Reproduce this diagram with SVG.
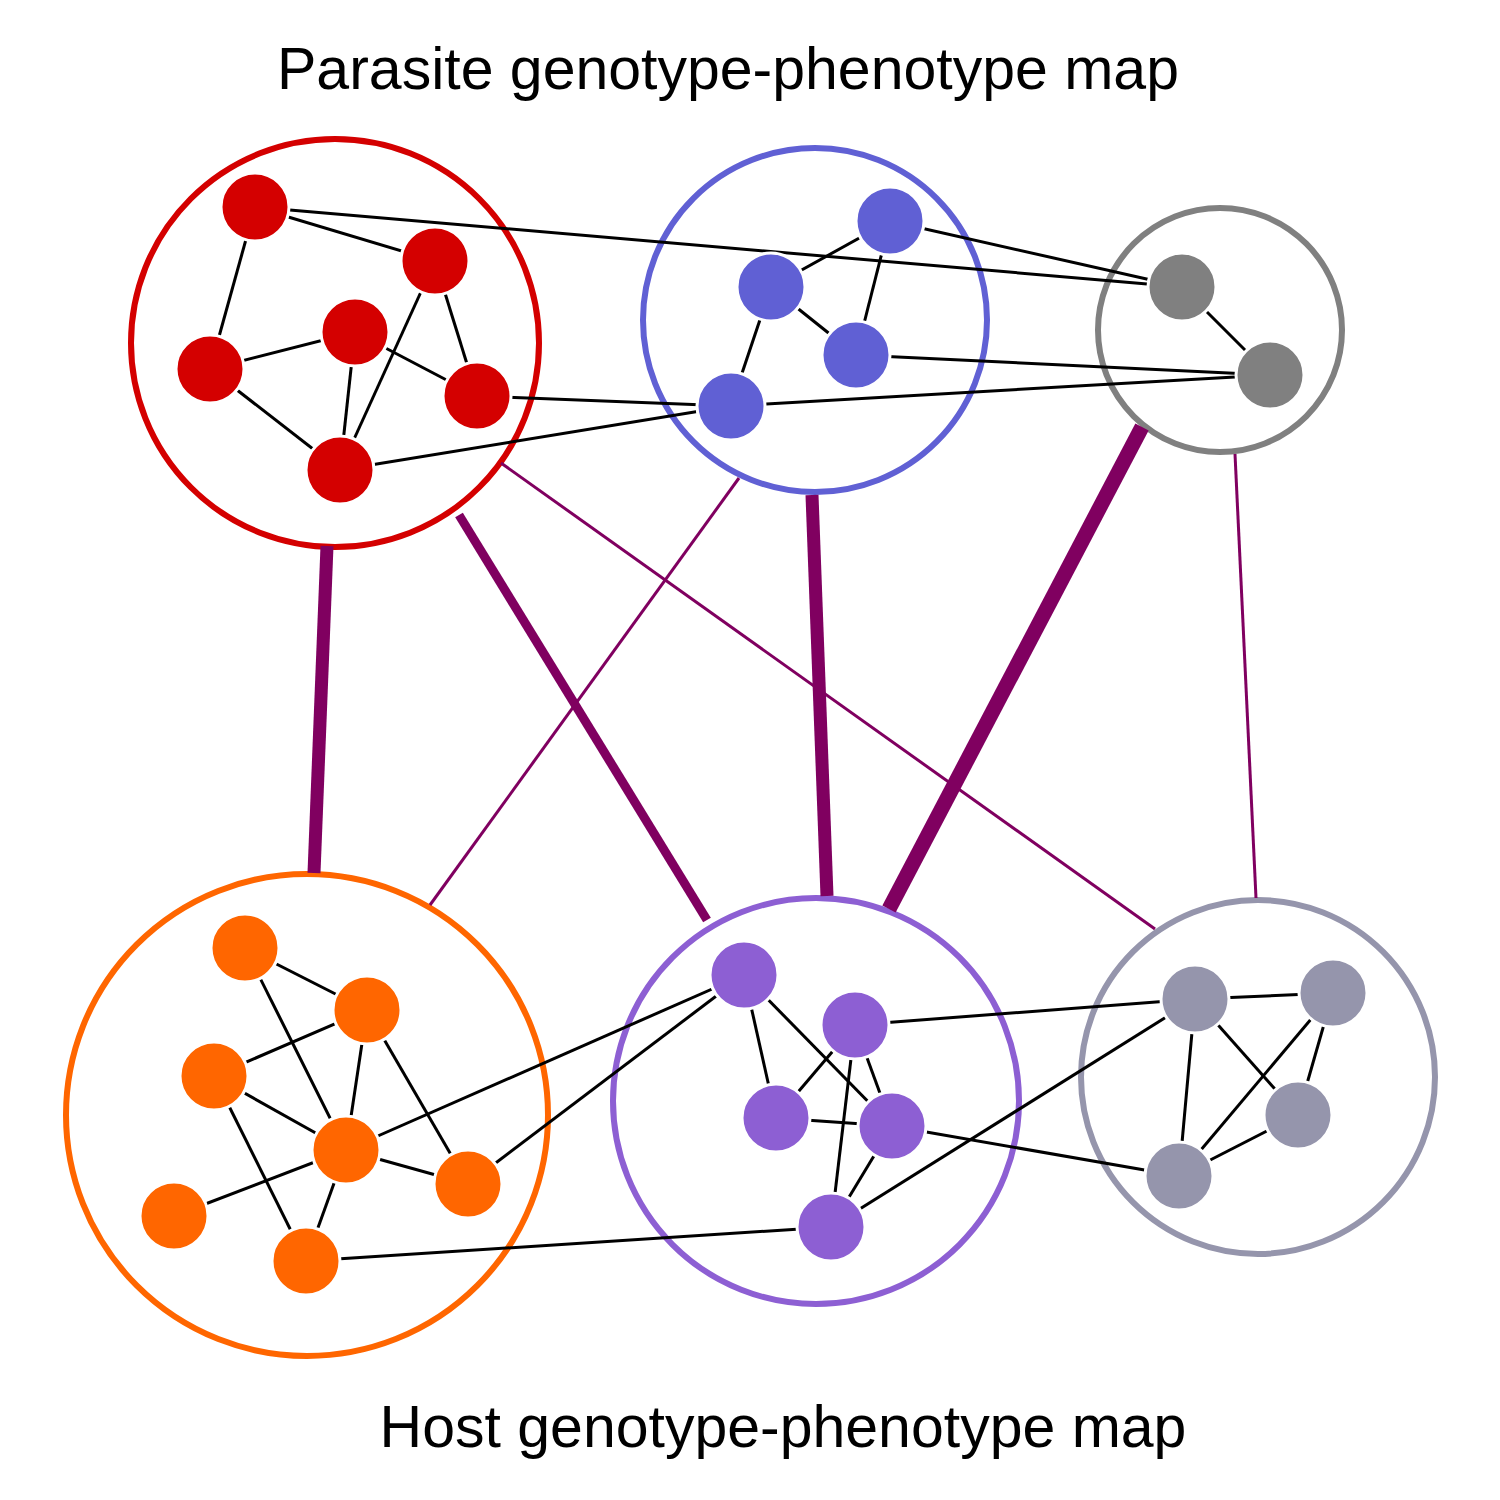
<svg xmlns="http://www.w3.org/2000/svg" width="1500" height="1500" viewBox="0 0 1500 1500">
<style>
.title{font-family:"Liberation Sans",Arial,sans-serif;font-size:59px;fill:#000;text-anchor:middle}
.cl{fill:none;stroke-width:6}
.e{stroke:#000;stroke-width:3;fill:none}
.x{stroke:#800060;fill:none}
.n{stroke:#fff;stroke-width:3}
.red{fill:#d40000}.blue{fill:#6060d4}.gray{fill:#808080}.orange{fill:#ff6600}.purple{fill:#8d5fd3}.gb{fill:#9595ac}
</style>
<rect width="1500" height="1500" fill="#fff"/>
<text class="title" x="728" y="89">Parasite genotype-phenotype map</text>
<text class="title" x="783" y="1447">Host genotype-phenotype map</text>
<g id="clusters">
<circle id="cluster-parasite-red" class="cl" cx="335" cy="343" r="204" stroke="#d40000"/>
<circle id="cluster-parasite-blue" class="cl" cx="815" cy="320" r="172" stroke="#6060d4"/>
<circle id="cluster-parasite-gray" class="cl" cx="1220" cy="330" r="122" stroke="#808080"/>
<circle id="cluster-host-orange" class="cl" cx="307" cy="1115" r="241" stroke="#ff6600"/>
<circle id="cluster-host-purple" class="cl" cx="816" cy="1101" r="203" stroke="#8d5fd3"/>
<circle id="cluster-host-grey" class="cl" cx="1258" cy="1077" r="177" stroke="#9595ac"/>
</g>
<g id="connectors">
<g id="cluster-links">
<line class="x" stroke-width="13" x1="327" y1="546" x2="314" y2="873"/>
<line class="x" stroke-width="9" x1="459" y1="515" x2="707" y2="920"/>
<line class="x" stroke-width="3" x1="501" y1="463" x2="1155" y2="929"/>
<line class="x" stroke-width="3" x1="739" y1="478" x2="430" y2="905"/>
<line class="x" stroke-width="13" x1="812" y1="495" x2="827" y2="896"/>
<line class="x" stroke-width="15" x1="1142" y1="427" x2="889" y2="909"/>
<line class="x" stroke-width="3" x1="1235" y1="454" x2="1256" y2="898"/>
</g>
<g id="gene-links">
<!-- red -->
<line class="e" x1="255" y1="207" x2="435" y2="261"/>
<line class="e" x1="255" y1="207" x2="210" y2="369"/>
<line class="e" x1="210" y1="369" x2="355" y2="332"/>
<line class="e" x1="210" y1="369" x2="340" y2="470"/>
<line class="e" x1="355" y1="332" x2="340" y2="470"/>
<line class="e" x1="355" y1="332" x2="477" y2="396"/>
<line class="e" x1="435" y1="261" x2="477" y2="396"/>
<line class="e" x1="435" y1="261" x2="340" y2="470"/>
<line class="e" x1="255" y1="207" x2="1182" y2="287"/>
<line class="e" x1="477" y1="396" x2="731" y2="406"/>
<line class="e" x1="340" y1="470" x2="731" y2="406"/>
<!-- blue -->
<line class="e" x1="890" y1="221" x2="771" y2="287"/>
<line class="e" x1="890" y1="221" x2="856" y2="355"/>
<line class="e" x1="771" y1="287" x2="856" y2="355"/>
<line class="e" x1="771" y1="287" x2="731" y2="406"/>
<line class="e" x1="890" y1="221" x2="1182" y2="287"/>
<line class="e" x1="856" y1="355" x2="1270" y2="375"/>
<line class="e" x1="731" y1="406" x2="1270" y2="375"/>
<!-- gray -->
<line class="e" x1="1182" y1="287" x2="1270" y2="375"/>
<!-- orange -->
<line class="e" x1="245" y1="948" x2="367" y2="1010"/>
<line class="e" x1="245" y1="948" x2="346" y2="1150"/>
<line class="e" x1="367" y1="1010" x2="214" y2="1076"/>
<line class="e" x1="367" y1="1010" x2="346" y2="1150"/>
<line class="e" x1="367" y1="1010" x2="468" y2="1184"/>
<line class="e" x1="214" y1="1076" x2="346" y2="1150"/>
<line class="e" x1="214" y1="1076" x2="306" y2="1261"/>
<line class="e" x1="346" y1="1150" x2="174" y2="1216"/>
<line class="e" x1="346" y1="1150" x2="468" y2="1184"/>
<line class="e" x1="346" y1="1150" x2="306" y2="1261"/>
<line class="e" x1="346" y1="1150" x2="744" y2="975"/>
<line class="e" x1="468" y1="1184" x2="744" y2="975"/>
<line class="e" x1="306" y1="1261" x2="831" y2="1227"/>
<!-- purple -->
<line class="e" x1="744" y1="975" x2="776" y2="1118"/>
<line class="e" x1="744" y1="975" x2="892" y2="1126"/>
<line class="e" x1="855" y1="1025" x2="776" y2="1118"/>
<line class="e" x1="855" y1="1025" x2="892" y2="1126"/>
<line class="e" x1="855" y1="1025" x2="831" y2="1227"/>
<line class="e" x1="776" y1="1118" x2="892" y2="1126"/>
<line class="e" x1="892" y1="1126" x2="831" y2="1227"/>
<line class="e" x1="855" y1="1025" x2="1195" y2="999"/>
<line class="e" x1="1195" y1="999" x2="1333" y2="993"/>
<line class="e" x1="892" y1="1126" x2="1179" y2="1176"/>
<line class="e" x1="831" y1="1227" x2="1195" y2="999"/>
<!-- grey -->
<line class="e" x1="1195" y1="999" x2="1298" y2="1115"/>
<line class="e" x1="1195" y1="999" x2="1179" y2="1176"/>
<line class="e" x1="1333" y1="993" x2="1179" y2="1176"/>
<line class="e" x1="1333" y1="993" x2="1298" y2="1115"/>
<line class="e" x1="1298" y1="1115" x2="1179" y2="1176"/>
</g>
</g>
<g id="nodes">
<g id="red-1"><circle class="n red" cx="255" cy="207" r="34"/></g>
<g id="red-2"><circle class="n red" cx="435" cy="261" r="34"/></g>
<g id="red-3"><circle class="n red" cx="355" cy="332" r="34"/></g>
<g id="red-4"><circle class="n red" cx="210" cy="369" r="34"/></g>
<g id="red-5"><circle class="n red" cx="477" cy="396" r="34"/></g>
<g id="red-6"><circle class="n red" cx="340" cy="470" r="34"/></g>
<g id="blue-1"><circle class="n blue" cx="890" cy="221" r="34"/></g>
<g id="blue-2"><circle class="n blue" cx="771" cy="287" r="34"/></g>
<g id="blue-3"><circle class="n blue" cx="856" cy="355" r="34"/></g>
<g id="blue-4"><circle class="n blue" cx="731" cy="406" r="34"/></g>
<g id="gray-1"><circle class="n gray" cx="1182" cy="287" r="34"/></g>
<g id="gray-2"><circle class="n gray" cx="1270" cy="375" r="34"/></g>
<g id="orange-1"><circle class="n orange" cx="245" cy="948" r="34"/></g>
<g id="orange-2"><circle class="n orange" cx="367" cy="1010" r="34"/></g>
<g id="orange-3"><circle class="n orange" cx="214" cy="1076" r="34"/></g>
<g id="orange-4"><circle class="n orange" cx="346" cy="1150" r="34"/></g>
<g id="orange-5"><circle class="n orange" cx="468" cy="1184" r="34"/></g>
<g id="orange-6"><circle class="n orange" cx="174" cy="1216" r="34"/></g>
<g id="orange-7"><circle class="n orange" cx="306" cy="1261" r="34"/></g>
<g id="purple-1"><circle class="n purple" cx="744" cy="975" r="34"/></g>
<g id="purple-2"><circle class="n purple" cx="855" cy="1025" r="34"/></g>
<g id="purple-3"><circle class="n purple" cx="776" cy="1118" r="34"/></g>
<g id="purple-4"><circle class="n purple" cx="892" cy="1126" r="34"/></g>
<g id="purple-5"><circle class="n purple" cx="831" cy="1227" r="34"/></g>
<g id="grey-1"><circle class="n gb" cx="1195" cy="999" r="34"/></g>
<g id="grey-2"><circle class="n gb" cx="1333" cy="993" r="34"/></g>
<g id="grey-3"><circle class="n gb" cx="1298" cy="1115" r="34"/></g>
<g id="grey-4"><circle class="n gb" cx="1179" cy="1176" r="34"/></g>
</g>
</svg>
